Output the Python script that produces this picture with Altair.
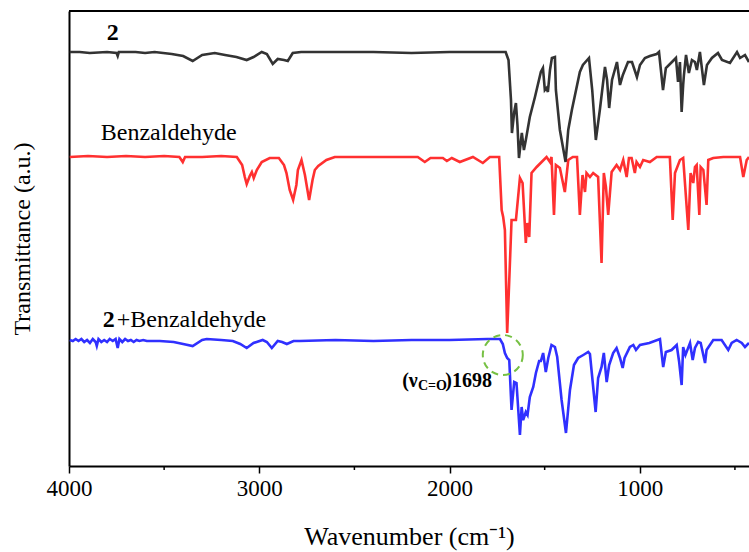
import altair as alt
import pandas as pd

# ---------------- data ----------------
series_names = ["2", "Benzaldehyde", "2+Benzaldehyde"]
series_colors = ["#333333", "#ff3030", "#3030ff"]

wn_2 = [3996, 3944, 3891, 3800, 3750, 3744, 3738, 3700, 3650, 3600, 3550, 3460, 3400, 3350, 3300,
        3234, 3180, 3120, 3066, 3030, 2987, 2960, 2929, 2903, 2870, 2850, 2824, 2780, 2600, 2400,
        2200, 2000, 1800, 1705, 1690, 1677, 1672, 1660, 1651, 1643, 1635, 1620, 1609, 1599, 1578,
        1551, 1520, 1509, 1499, 1490, 1483, 1472, 1462, 1446, 1441, 1420, 1390, 1376, 1357, 1315,
        1299, 1267, 1250, 1231, 1210, 1183, 1172, 1161, 1146, 1120, 1104, 1089, 1062, 1041, 1015,
        999, 973, 947, 911, 899, 889, 878, 863, 831, 810, 799, 789, 780, 772, 768, 757, 742, 726,
        710, 700, 684, 663, 647, 621, 589, 568, 526, 489, 473, 447, 426]
t_2 = [414, 414, 413, 414, 413, 410, 414, 414, 414, 413, 414, 412, 410, 405, 411,
       413, 411, 409, 406, 409, 414, 412, 402, 407, 406, 405, 413, 414, 414, 414,
       413, 414, 414, 414, 406, 366, 333, 354, 363, 341, 308, 333, 316, 326, 349,
       369, 394, 398, 376, 378, 374, 396, 408, 409, 376, 336, 304, 336, 356, 394,
       401, 408, 376, 326, 356, 399, 386, 358, 386, 404, 381, 391, 404, 404, 389,
       401, 408, 410, 412, 414, 396, 376, 398, 404, 408, 384, 404, 354, 381, 391, 411, 393, 406,
       404, 396, 414, 381, 401, 408, 413, 406, 403, 414, 408, 411, 404]

wn_benz = [3996, 3900, 3800, 3700, 3600, 3500, 3420, 3402, 3390, 3300, 3200, 3118, 3090, 3076,
           3066, 3050, 3039, 3029, 3013, 2987, 2945, 2897, 2870, 2857, 2840, 2822, 2805, 2797,
           2778, 2760, 2738, 2720, 2708, 2690, 2647, 2603, 2400, 2167, 2130, 2100, 2035, 2014,
           1988, 1946, 1877, 1825, 1788, 1739, 1726, 1718, 1709, 1697, 1686, 1674, 1651, 1630,
           1616, 1599, 1592, 1581, 1569, 1542, 1516, 1490, 1472, 1464, 1451, 1441, 1420, 1394,
           1376, 1352, 1330, 1315, 1301, 1288, 1280, 1262, 1245, 1219, 1201, 1189, 1178, 1166,
           1148, 1122, 1104, 1087, 1069, 1057, 1043, 1026, 1017, 999, 982, 947, 911, 842, 827,
           815, 789, 772, 745, 733, 719, 710, 701, 687, 680, 666, 649, 640, 614, 561, 473, 456,
           438, 426]
t_benz = [309, 310, 309, 310, 309, 310, 309, 304, 309, 309, 310, 309, 301, 289,
          282, 290, 294, 288, 296, 304, 308, 308, 301, 293, 276, 266, 281, 296,
          306, 291, 266, 286, 296, 300, 306, 309, 309, 309, 304, 308, 308, 305,
          308, 304, 309, 303, 309, 309, 256, 249, 236, 133, 186, 246, 246, 288,
          283, 223, 243, 229, 293, 299, 304, 309, 304, 309, 251, 301, 298, 274,
          306, 309, 309, 251, 291, 274, 293, 289, 293, 289, 203, 293, 279, 251,
          294, 301, 296, 306, 289, 308, 308, 293, 304, 299, 306, 304, 309, 309, 246,
          293, 306, 308, 236, 293, 283, 299, 301, 251, 299, 296, 261, 306, 308, 309, 309, 289,
          306, 309]

wn_mix = [3996, 3980, 3965, 3950, 3935, 3920, 3905, 3890, 3875, 3860, 3854, 3845, 3830, 3815,
          3800, 3786, 3770, 3755, 3744, 3735, 3720, 3705, 3690, 3675, 3660, 3645, 3630, 3610,
          3591, 3523, 3450, 3400, 3350, 3300, 3276, 3200, 3139, 3100, 3066, 3030, 2982, 2960,
          2934, 2903, 2880, 2855, 2820, 2787, 2600, 2400, 2200, 2000, 1800, 1772, 1735, 1720,
          1709, 1697, 1686, 1674, 1660, 1648, 1630, 1621, 1613, 1599, 1590, 1578, 1560, 1546,
          1529, 1520, 1508, 1494, 1481, 1464, 1446, 1434, 1411, 1388, 1367, 1346, 1324, 1297,
          1271, 1262, 1232, 1219, 1201, 1189, 1174, 1161, 1140, 1122, 1104, 1090, 1080, 1052,
          1034, 1020, 999, 950, 894, 877, 863, 833, 806, 793, 780, 772, 760, 736, 722, 710, 693,
          680, 657, 649, 614, 570, 535, 517, 491, 464, 447, 426]
t_mix = [126, 125, 127, 125, 127, 124, 126, 123, 127, 124, 120, 127, 124, 126,
         124, 127, 125, 127, 118, 127, 124, 127, 125, 126, 124, 126, 125, 126,
         125, 125, 124, 122, 120, 126, 127, 126, 125, 122, 118, 123, 126, 124,
         118, 125, 124, 122, 125, 125, 126, 125, 126, 126, 127, 127, 127, 122,
         113, 108, 106, 56, 84, 83, 31, 59, 46, 54, 51, 69, 79, 93,
         105, 105, 113, 94, 108, 121, 119, 109, 66, 33, 76, 101, 108, 111,
         114, 112, 54, 88, 99, 113, 84, 101, 113, 118, 108, 98, 108, 119,
         121, 116, 121, 123, 127, 99, 114, 116, 121, 104, 81, 119, 111, 123, 106, 118, 124,
         123, 103, 116, 126, 126, 116, 123, 126, 123, 119, 123]

major_ticks = [4000, 3000, 2000, 1000]
minor_ticks = [3500, 2500, 1500, 500]

# labels: text, wavenumber, level, align, weight
label_text = ["2", "Benzaldehyde", "2", "+Benzaldehyde"]
label_wn = [3770, 3833, 3823, 3749]
label_t = [433, 333, 146, 146]
label_align = ["center", "left", "left", "left"]
label_weight = ["bold", "normal", "bold", "normal"]

ann_parts = ["(\u03bd", "C=O", ")1698"]
ann_wn = [2167, 2014, 1777]
ann_t = [85, 80, 85]
ann_size = [20, 14, 20]

circle_wn = [1720]
circle_t = [111]

# ---------------- build ----------------
frames = []
for name, wn, t in zip(series_names, [wn_2, wn_benz, wn_mix], [t_2, t_benz, t_mix]):
    frames.append(pd.DataFrame({"wn": wn, "t": t, "series": name, "order": list(range(len(wn)))}))
df = pd.concat(frames, ignore_index=True)

W, H = 680, 455
FONT = "Liberation Serif"

xs = alt.Scale(domain=[4000, 426], nice=False, zero=False)
ys = alt.Scale(domain=[0, 455], nice=False, zero=False)

x_axis = alt.Axis(values=major_ticks, format="d", labelFont=FONT, labelFontSize=23, labelColor="black",
                  tickSize=7, tickWidth=1.5, tickColor="black", domainColor="black", domainWidth=2,
                  grid=False, title="Wavenumber (cm\u207b\u00b9)", titleFont=FONT, titleFontSize=26,
                  titleFontWeight="normal", titleColor="black", titlePadding=23, labelPadding=4,
                  labelFlush=False)
y_axis = alt.Axis(labels=False, ticks=False, grid=False, domainColor="black", domainWidth=2,
                  title="Transmittance (a.u.)", titleFont=FONT, titleFontSize=24,
                  titleFontWeight="normal", titleColor="black", titlePadding=35)

lines = alt.Chart(df).mark_line(strokeWidth=2.6, clip=True).encode(
    x=alt.X("wn:Q", scale=xs, axis=x_axis),
    y=alt.Y("t:Q", scale=ys, axis=y_axis),
    color=alt.Color("series:N", scale=alt.Scale(domain=series_names, range=series_colors), legend=None),
    order="order:Q",
)

top_rule = alt.Chart(pd.DataFrame({"a": [0]})).mark_rule(color="black", strokeWidth=2).encode(
    x=alt.value(0), x2=alt.value(W), y=alt.value(0)
)

minor = alt.Chart(pd.DataFrame({"wn": minor_ticks})).mark_rule(color="black", strokeWidth=1.5).encode(
    x=alt.X("wn:Q", scale=xs), y=alt.value(H), y2=alt.value(H + 4)
)

lab_df = pd.DataFrame({"text": label_text, "wn": label_wn, "t": label_t,
                       "align": label_align, "weight": label_weight})
label_layers = []
for i in range(len(lab_df)):
    row = lab_df.iloc[[i]]
    label_layers.append(
        alt.Chart(row).mark_text(font=FONT, fontSize=24, color="black", align=row["align"].iloc[0],
                                 baseline="middle", fontWeight=row["weight"].iloc[0]).encode(
            x=alt.X("wn:Q", scale=xs), y=alt.Y("t:Q", scale=ys), text="text:N")
    )

ann_df = pd.DataFrame({"text": ann_parts, "wn": ann_wn, "t": ann_t, "size": ann_size})
ann_layers = []
for i in range(len(ann_df)):
    row = ann_df.iloc[[i]]
    ann_layers.append(
        alt.Chart(row).mark_text(font=FONT, fontSize=int(row["size"].iloc[0]), color="black", align="right",
                                 baseline="middle", fontWeight="bold").encode(
            x=alt.X("wn:Q", scale=xs), y=alt.Y("t:Q", scale=ys), text="text:N")
    )

circle = alt.Chart(pd.DataFrame({"wn": circle_wn, "t": circle_t})).mark_point(
    shape="circle", size=1600, filled=False, stroke="#76c043", strokeWidth=2, strokeDash=[7, 5],
    opacity=1
).encode(x=alt.X("wn:Q", scale=xs), y=alt.Y("t:Q", scale=ys))

chart = alt.layer(lines, top_rule, minor, circle, *label_layers, *ann_layers).properties(
    width=W, height=H,
    autosize=alt.AutoSizeParams(type="none"),
    padding={"left": 69, "top": 11, "right": 0, "bottom": 86},
    background="white",
).configure_view(stroke=None)

chart.save("out.html", embed_options={"renderer": "svg", "actions": False})
